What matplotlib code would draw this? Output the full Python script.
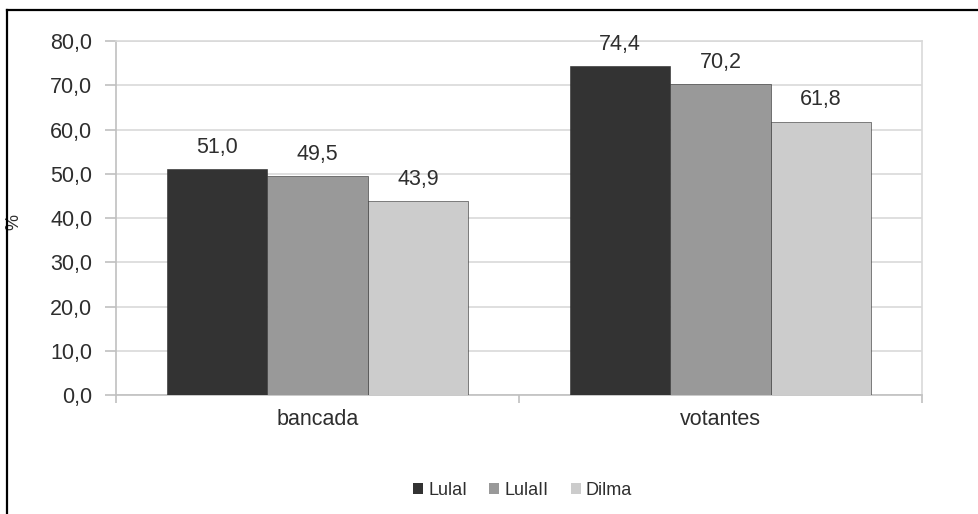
import numpy as np
import matplotlib
matplotlib.use('Agg')
import matplotlib.pyplot as plt
from matplotlib.lines import Line2D
from matplotlib.patches import Patch

# dados do gráfico
categorias = ['bancada', 'votantes']
series = ['LulaI', 'LulaII', 'Dilma']
lula1 = [51.0, 74.4]
lula2 = [49.5, 70.2]
dilma = [43.9, 61.8]
cores = ['#333333', '#999999', '#cccccc']

plt.rcParams['font.family'] = ['Liberation Sans', 'DejaVu Sans']
cor_texto = '#2e2e2e'

fig = plt.figure(figsize=(9.79, 5.14), dpi=100)
ax = fig.add_axes([0.1185, 0.2315, 0.8233, 0.6887])

x = np.arange(len(categorias))
largura = 0.249
valores = [lula1, lula2, dilma]
for i, (nome, vals, cor) in enumerate(zip(series, valores, cores)):
    barras = ax.bar(x + (i - 1) * largura, vals, largura, color=cor,
                    edgecolor='#2a2a2a', linewidth=0.4, zorder=3)
    for b, v in zip(barras, vals):
        ax.annotate(f'{v:.1f}'.replace('.', ','),
                    (b.get_x() + b.get_width() / 2, v),
                    xytext=(0, 8), textcoords='offset points',
                    ha='center', va='bottom', fontsize=15.5, color=cor_texto)

ax.set_xlim(-0.5, 1.5)
ax.set_ylim(0, 80)
ax.set_yticks(np.arange(0, 81, 10))
ax.set_yticklabels([f'{t:.1f}'.replace('.', ',') for t in np.arange(0, 81, 10)],
                   fontsize=15.5, color=cor_texto)
ax.yaxis.grid(True, color='#d9d9d9', linewidth=1.2, zorder=0)
ax.set_axisbelow(True)

# marcas do eixo x nas bordas das categorias, rótulos no centro
ax.set_xticks([-0.5, 0.5, 1.5])
ax.set_xticklabels([])
ax.set_xticks(x, minor=True)
ax.set_xticklabels(categorias, minor=True, fontsize=15.5, color=cor_texto)
ax.tick_params(axis='x', which='major', length=6, color='#c0c0c0', width=1.2)
ax.tick_params(axis='x', which='minor', length=0, pad=10)
ax.tick_params(axis='y', length=8, color='#c0c0c0', width=1.2, pad=9)

for s in ['left', 'bottom']:
    ax.spines[s].set_color('#c0c0c0')
    ax.spines[s].set_linewidth(1.2)
for s in ['top', 'right']:
    ax.spines[s].set_color('#d9d9d9')
    ax.spines[s].set_linewidth(1.2)

ax.set_ylabel('%', fontsize=13, color=cor_texto)
ax.yaxis.set_label_coords(-0.1166, 0.49)

handles = [Patch(facecolor=c, edgecolor='none', label=n) for n, c in zip(series, cores)]
fig.legend(handles=handles, loc='center', bbox_to_anchor=(0.534, 0.046), ncol=3,
           frameon=False, fontsize=13, handlelength=0.55, handleheight=0.55,
           handletextpad=0.3, columnspacing=1.2, labelcolor=cor_texto)

# moldura externa
fig.add_artist(Line2D([7 / 979, 7 / 979], [0, 1 - 10 / 514], color='black',
                      linewidth=1.6, transform=fig.transFigure))
fig.add_artist(Line2D([7 / 979, 1], [1 - 10 / 514, 1 - 10 / 514], color='black',
                      linewidth=1.6, transform=fig.transFigure))

fig.savefig('out.png', dpi=100)
